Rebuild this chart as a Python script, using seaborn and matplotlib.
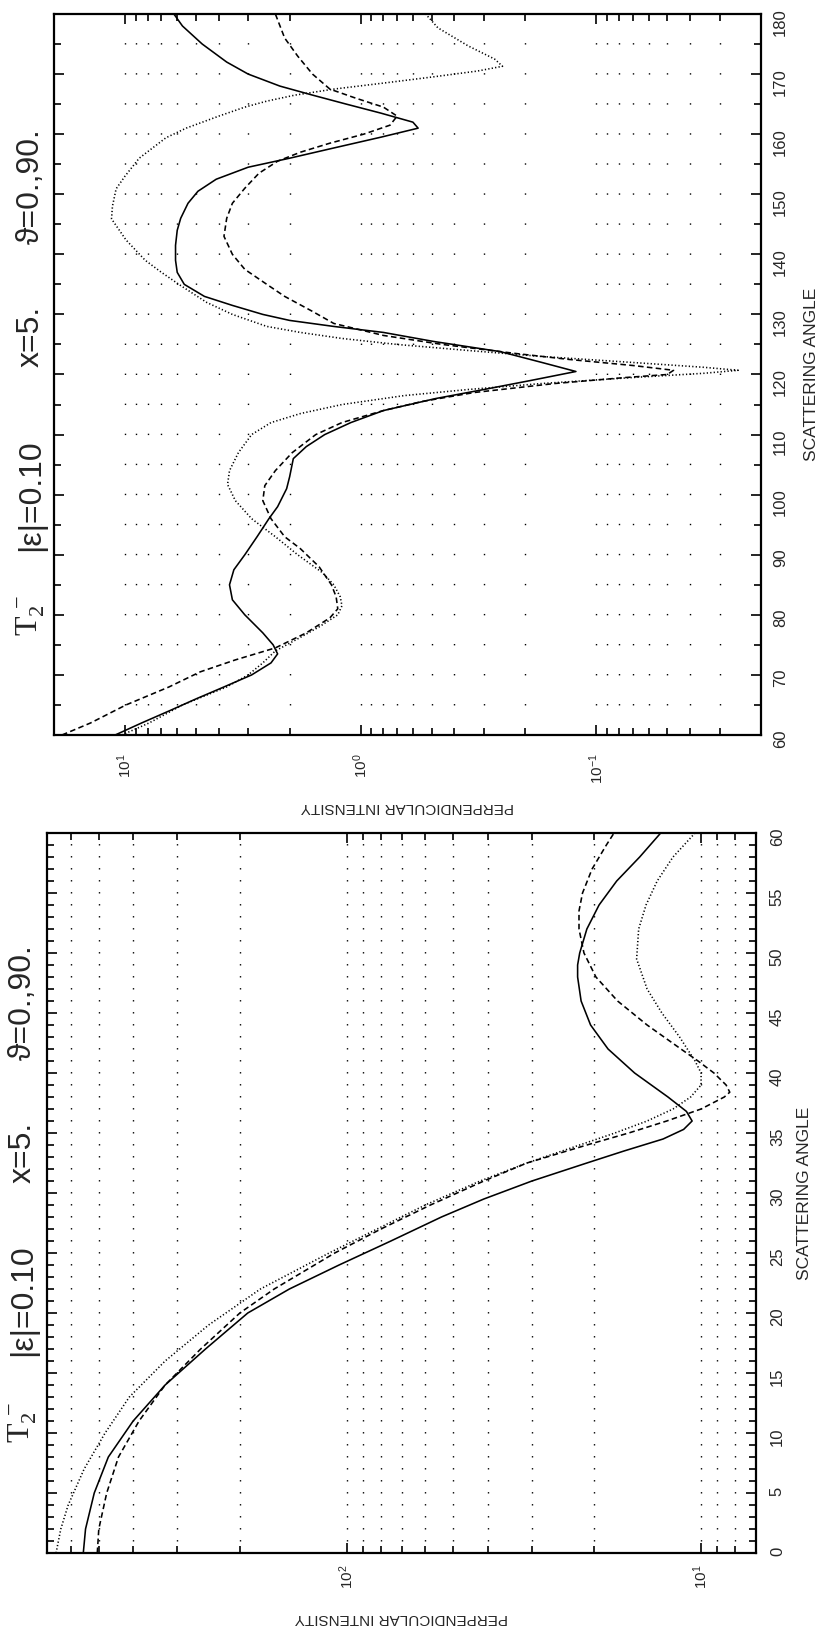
import matplotlib
matplotlib.use("Agg")
import matplotlib.pyplot as plt
from matplotlib.ticker import FixedLocator, LogLocator, MultipleLocator, NullFormatter
import numpy as np
import pandas as pd
import seaborn as sns

# ---- lower panel: scattering angle 0..60 deg ----
lo_solid_ang = [0, 2, 5, 8, 11, 14, 17, 20, 22, 24, 26, 28, 29.5, 31, 32.5, 33.5, 34.5, 35.3, 36,
                36.8, 38, 40, 42, 44, 46, 48, 49, 50, 52, 54, 56, 58, 60]
lo_solid_val = [553, 545, 515, 470, 400, 325, 250, 190, 145, 105, 75, 54, 41, 30, 21, 16.5, 12.8, 11.2, 10.6,
                11.0, 12.4, 15.4, 18.3, 20.5, 21.8, 22.3, 22.3, 22.0, 21.0, 19.4, 17.3, 14.9, 13.0]

lo_dash_ang = [0, 2, 5, 8, 11, 14, 17, 20, 22, 25, 27, 29, 31, 32.5, 34, 35, 36, 37, 38, 38.4, 39, 40,
               41, 42, 44, 46, 48, 50, 52, 53.5, 55, 57, 59, 60]
lo_dash_val = [505, 500, 475, 440, 385, 325, 258, 200, 160, 108, 80, 58, 41, 31, 21, 16, 12.5, 10, 8.6, 8.3, 8.5, 9.2,
               10.2, 11.4, 14.2, 17.2, 19.8, 21.4, 22.1, 22.1, 21.6, 20.3, 18.5, 17.6]

lo_dot_ang = [0, 2, 4, 7, 10, 13, 16, 19, 22, 25, 27, 29, 31, 32.5, 34, 35, 36, 37, 38, 39, 40, 41,
              43, 45, 47, 49.5, 52, 54, 56, 58, 60]
lo_dot_val = [660, 640, 610, 550, 480, 410, 325, 245, 175, 112, 82, 60, 42, 31, 22, 17.5, 14.2, 12, 10.7, 10.0, 10.0, 10.4,
              11.5, 12.9, 14.2, 15.2, 15.0, 14.3, 13.3, 12.0, 10.4]

# ---- upper panel: scattering angle 60..180 deg ----
up_solid_ang = [60, 62, 64, 66, 68, 70, 72, 73.5, 75, 77, 80, 82.5, 85, 87.5, 90, 93, 96, 98, 101, 103,
                106, 108, 110, 112, 114, 116, 117.5, 119, 120.5, 122, 123.8, 125.5, 127, 128, 129, 130,
                131.5, 133, 135, 137, 139, 141.5, 144, 146, 148.5, 150.5, 152.5, 154.5, 156, 157.7,
                159.5, 161, 162, 163.5, 165, 166.5, 168, 170, 172, 175, 178, 180]
up_solid_val = [11, 8.5, 6.5, 5.0, 3.8, 2.9, 2.4, 2.25, 2.35, 2.6, 3.1, 3.5, 3.6, 3.45, 3.1, 2.75, 2.45, 2.25, 2.06, 2.0,
                1.93, 1.7, 1.42, 1.1, 0.8, 0.48, 0.3, 0.19, 0.122, 0.17, 0.255, 0.49, 0.8, 1.3, 2.0, 2.6,
                3.5, 4.6, 5.6, 6.0, 6.1, 6.1, 6.0, 5.8, 5.4, 4.9, 4.1, 3.0, 2.0, 1.3,
                0.82, 0.57, 0.6, 0.82, 1.15, 1.6, 2.2, 3.0, 3.7, 4.7, 5.7, 6.2]

up_dash_ang = [60, 62, 65, 68, 70.5, 72.5, 74.5, 77, 79.5, 81, 83, 85, 88, 91, 93, 96, 99, 101.5, 104,
               107, 110, 112, 114, 115.5, 117, 118.5, 119.5, 120, 120.7, 121.5, 122.5, 123.5, 125,
               126.5, 128.5, 130.5, 133, 135, 137.5, 140, 143, 146, 148.5, 151, 153.5, 155.5, 157,
               158.5, 160, 161.5, 163, 164.5, 166, 167.5, 170, 173, 176, 180]
up_dash_val = [18.5, 14, 9.9, 6.5, 4.8, 3.4, 2.3, 1.7, 1.35, 1.25, 1.27, 1.33, 1.5, 1.8, 2.1, 2.4, 2.6, 2.55, 2.3,
               1.95, 1.55, 1.2, 0.8, 0.55, 0.33, 0.15, 0.075, 0.05, 0.047, 0.07, 0.13, 0.22, 0.45,
               0.8, 1.3, 1.6, 2.1, 2.5, 3.1, 3.5, 3.8, 3.7, 3.5, 3.1, 2.7, 2.25, 1.8,
               1.35, 0.97, 0.75, 0.7, 0.8, 1.05, 1.35, 1.6, 1.85, 2.1, 2.3]

up_dot_ang = [60, 62, 65, 68, 70, 72, 74, 76, 78, 80, 81.5, 83, 85, 87, 90, 93, 96, 99, 101.7, 104,
              107, 110, 112, 113.5, 115, 116.5, 117.5, 118.5, 119.5, 120.2, 120.7, 121.2, 122, 123,
              124, 125, 126, 127, 128, 130, 132, 134.8, 137, 139, 142.4, 145.9, 148, 150.9, 153,
              156, 159.4, 161, 163, 164.5, 165.5, 166.5, 167.5, 168.5, 169.5, 170.5, 171.3, 172.5,
              174.7, 177.7, 180]
up_dot_val = [10.3, 7.9, 5.7, 3.7, 3.0, 2.6, 2.3, 1.85, 1.5, 1.25, 1.2, 1.22, 1.3, 1.45, 1.85, 2.3, 2.9, 3.4, 3.67, 3.6,
              3.3, 2.9, 2.4, 1.8, 1.2, 0.65, 0.35, 0.17, 0.07, 0.035, 0.025, 0.035, 0.07, 0.17,
              0.35, 0.7, 1.2, 1.8, 2.5, 3.5, 4.5, 5.8, 7.0, 8.2, 9.9, 11.4, 11.3, 10.9, 10.0,
              8.7, 6.7, 5.5, 4.0, 3.1, 2.5, 1.9, 1.3, 0.8, 0.5, 0.32, 0.25, 0.27,
              0.35, 0.47, 0.53]

title_parts = [r"$\mathregular{T_2^{\,-}}$", "|ε|=0.10", "x=5.", "ϑ=0.,90."]

sns.set_style("ticks")
plt.rcParams['font.family'] = ['Liberation Sans', 'DejaVu Sans']
plt.rcParams['lines.scale_dashes'] = False
plt.rcParams['mathtext.default'] = 'regular'

W, H = 823, 1635
fig = plt.figure(figsize=(W / 100, H / 100), dpi=100)
ax_up = fig.add_axes([54 / W, 1 - 735 / H, 707 / W, 721 / H])
ax_lo = fig.add_axes([47 / W, 1 - 1553 / H, 709 / W, 720 / H])

SOLID = '-'
DASH = (0, (4.0, 2.4))
DOT = (0, (0.9, 1.6))


def draw_panel(ax, curves, xlim, ylim, xmajor, xlabels, ymajor, yminor,
               xpad, ypad, xlab_y, ylab_x, title_x, title_ys):
    for ang, val, ls in curves:
        df = pd.DataFrame({'angle': ang, 'intensity': val})
        sns.lineplot(data=df, x='intensity', y='angle', orient='y', estimator=None,
                     ax=ax, color='black', lw=1.15, linestyle=ls)
    ax.set_xscale('log')
    ax.set_xlim(*xlim)
    ax.set_ylim(*ylim)
    ax.xaxis.set_major_locator(FixedLocator(xmajor))
    ax.set_xticklabels(xlabels)
    ax.xaxis.set_minor_locator(LogLocator(base=10, subs=np.arange(2, 10)))
    ax.xaxis.set_minor_formatter(NullFormatter())
    ax.yaxis.set_major_locator(MultipleLocator(ymajor))
    ax.yaxis.set_minor_locator(MultipleLocator(yminor))
    ax.yaxis.tick_right()
    ax.yaxis.set_label_position('right')
    ax.tick_params(which='both', direction='in', top=True, bottom=True, left=True, right=True,
                   width=1.2, color='black')
    ax.tick_params(which='major', length=7.5)
    ax.tick_params(which='minor', length=4.8)
    ax.tick_params(axis='x', labelrotation=90, labelsize=11, pad=xpad)
    ax.tick_params(axis='y', labelrotation=90, labelsize=12, pad=ypad)
    for sp in ax.spines.values():
        sp.set_linewidth(1.6)
        sp.set_color('black')

    # dotted grid: one dot per angle step
    h_pt = ax.get_position().height * fig.get_figheight() * 72
    period = h_pt / ((ylim[1] - ylim[0]) / yminor)
    ax.grid(True, axis='x', which='both', color='black', linewidth=1.0,
            linestyle=(0, (1.0, period - 1.0)))
    ax.grid(False, axis='y', which='both')

    ax.set_xlabel('PERPENDICULAR INTENSITY', rotation=180, fontsize=11,
                  va='center', ha='center')
    ax.xaxis.set_label_coords(0.5, xlab_y)
    ax.set_ylabel('SCATTERING ANGLE', rotation=90, fontsize=12.5, va='center', ha='center')
    ax.yaxis.set_label_coords(ylab_x, 0.5)

    for txt, ty in zip(title_parts, title_ys):
        fam = ['Liberation Serif', 'DejaVu Serif'] if txt.startswith('$') else \
            ['Liberation Sans', 'DejaVu Sans']
        ax.text(title_x, ty, txt, transform=ax.transAxes, rotation=90, fontsize=23,
                ha='center', va='center', family=fam)


draw_panel(ax_up,
           [(up_solid_ang, up_solid_val, SOLID), (up_dash_ang, up_dash_val, DASH),
            (up_dot_ang, up_dot_val, DOT)],
           (20, 0.02), (60, 180), [10, 1, 0.1],
           [r'$10^{1}$', r'$10^{0}$', r'$10^{-1}$'], 10, 5,
           xpad=13, ypad=8.5, xlab_y=-0.100, ylab_x=1.071,
           title_x=-0.0325, title_ys=[0.166, 0.333, 0.553, 0.761])

draw_panel(ax_lo,
           [(lo_solid_ang, lo_solid_val, SOLID), (lo_dash_ang, lo_dash_val, DASH),
            (lo_dot_ang, lo_dot_val, DOT)],
           (700, 7), (0, 60), [100, 10],
           [r'$10^{2}$', r'$10^{1}$'], 5, 1,
           xpad=8, ypad=10, xlab_y=-0.090, ylab_x=1.069,
           title_x=-0.034, title_ys=[0.181, 0.351, 0.557, 0.765])

fig.savefig('out.png', dpi=100)
